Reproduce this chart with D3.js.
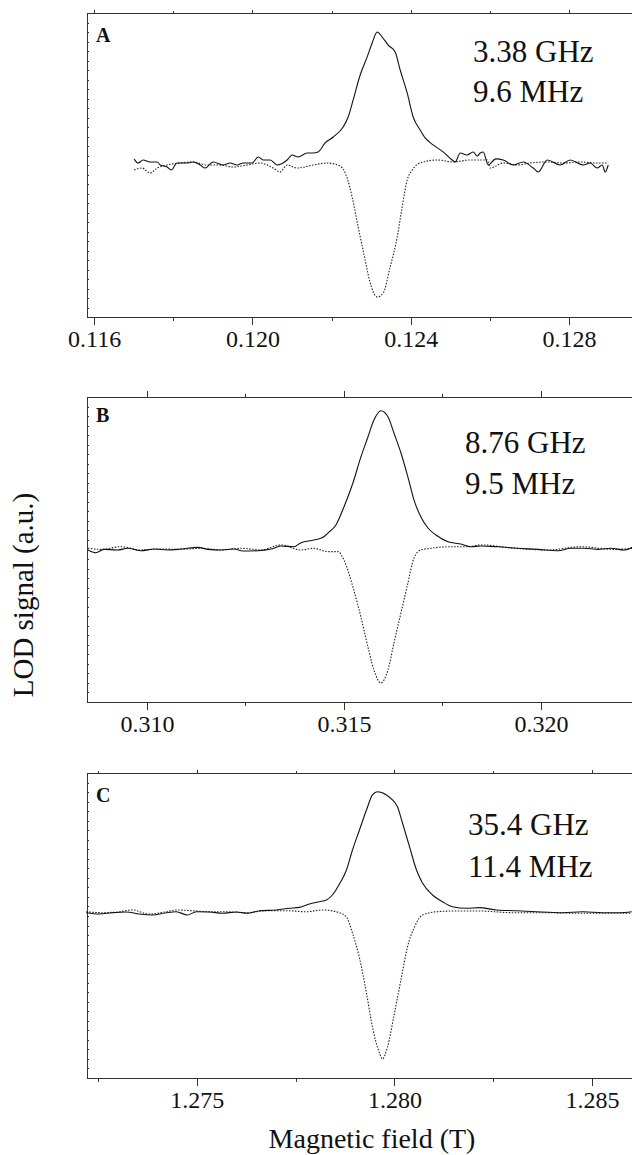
<!DOCTYPE html>
<html>
<head>
<meta charset="utf-8">
<script src="https://cdn.jsdelivr.net/npm/d3@7"></script>
<style>
  body { margin: 0; background: #fff; }
  svg text { font-family: "Liberation Serif", "Times New Roman", serif; fill: #111; }
  .axis path, .axis line { stroke: #333; stroke-width: 1; shape-rendering: crispEdges; }
</style>
</head>
<body>
<script>
// ---- data: [field (T), LOD signal (a.u.)] ----
var aSolid = [[0.117011,0.039],[0.117112,0.013],[0.117238,0.033],[0.117415,0.020],[0.117592,0.020],[0.117668,0],
  [0.117845,-0.013],[0.117946,-0.033],[0.118097,0.013],[0.118350,0.013],[0.118502,0.020],[0.118679,0],[0.118805,-0.020],
  [0.119007,0.020],[0.119260,0],[0.119437,0.013],[0.119614,0],[0.119765,0.013],[0.119993,0.013],[0.120144,0.053],
  [0.120271,0.033],[0.120448,0.033],[0.120624,0],[0.120877,0.033],[0.121003,0.066],[0.121155,0.053],[0.121383,0.079],
  [0.121534,0.079],[0.121660,0.086],[0.121837,0.145],[0.122040,0.184],[0.122292,0.250],[0.122419,0.316],[0.122545,0.428],
  [0.122722,0.592],[0.122899,0.711],[0.123025,0.803],[0.123152,0.875],[0.123278,0.842],[0.123430,0.789],[0.123606,0.743],
  [0.123733,0.625],[0.123910,0.474],[0.124061,0.316],[0.124238,0.230],[0.124364,0.178],[0.124567,0.132],[0.124819,0.086],
  [0.125047,0.033],[0.125123,0.020],[0.125249,0.079],[0.125420,0.066],[0.125578,0.086],[0.125680,0.059],[0.125755,0.079],
  [0.125831,0.086],[0.125957,0],[0.126150,0.040],[0.126336,0.033],[0.126589,0],[0.126841,0.020],[0.127094,-0.020],
  [0.127220,-0.046],[0.127448,0.033],[0.127776,0],[0.128029,0.033],[0.128357,0],[0.128534,0.013],[0.128711,-0.020],
  [0.128837,0],[0.128913,-0.046],[0.128989,0]];
var aDotted = [[0.117011,-0.033],[0.117213,-0.020],[0.117415,-0.053],[0.117592,-0.020],[0.117845,0],[0.118173,0.013],
  [0.118502,0.020],[0.118856,0],[0.119184,0],[0.119513,-0.013],[0.119867,0],[0.120195,0.013],[0.120523,-0.020],
  [0.120700,-0.046],[0.120877,0],[0.121130,-0.020],[0.121534,0],[0.121888,0.013],[0.122216,-0.007],[0.122393,-0.086],
  [0.122520,-0.211],[0.122671,-0.408],[0.122848,-0.625],[0.122975,-0.776],[0.123152,-0.868],[0.123303,-0.842],
  [0.123480,-0.671],[0.123657,-0.474],[0.123783,-0.276],[0.123910,-0.099],[0.124036,-0.033],[0.124238,0.013],
  [0.124668,0.033],[0.125072,0.020],[0.125502,0.033],[0.125932,0.033],[0.126007,-0.020],[0.126336,0.013],[0.126690,0],
  [0.127018,0.013],[0.127448,0.020],[0.127852,0.013],[0.128282,0.020],[0.128711,0.013],[0.128989,0.013]];

var bSolid = [[0.308503,-0.003],[0.308706,-0.021],[0.308909,0.001],[0.309264,-0.003],[0.309518,0.008],[0.309848,-0.008],
  [0.310178,0.003],[0.310533,-0.003],[0.310863,0.003],[0.311295,0.014],[0.311548,0.001],[0.311878,-0.003],[0.312208,0.003],
  [0.312437,-0.010],[0.312817,-0.008],[0.313147,0.003],[0.313401,0.023],[0.313731,0.018],[0.313909,0.045],[0.314239,0.062],
  [0.314492,0.084],[0.314594,0.108],[0.314797,0.161],[0.315000,0.279],[0.315228,0.436],[0.315431,0.607],[0.315609,0.738],
  [0.315761,0.849],[0.315939,0.910],[0.316117,0.871],[0.316269,0.764],[0.316447,0.633],[0.316624,0.475],[0.316777,0.325],
  [0.316954,0.213],[0.317132,0.141],[0.317335,0.095],[0.317640,0.051],[0.317969,0.036],[0.318223,0.018],[0.318477,0.023],
  [0.318909,0.018],[0.319416,0.008],[0.319924,0.001],[0.320431,-0.008],[0.320761,0.008],[0.321091,0.008],[0.321447,0.001],
  [0.321776,0.008],[0.322106,-0.003],[0.322335,0.018]];
var bDotted = [[0.308503,0.008],[0.308833,0.001],[0.309340,0.018],[0.309848,-0.003],[0.310355,0.003],[0.310863,0.001],
  [0.311371,0.008],[0.311878,-0.003],[0.312386,0.008],[0.312893,-0.003],[0.313401,0.030],[0.313909,-0.003],[0.314239,0.008],
  [0.314594,-0.014],[0.314848,-0.014],[0.315000,-0.069],[0.315228,-0.246],[0.315431,-0.443],[0.315609,-0.639],
  [0.315761,-0.790],[0.315939,-0.875],[0.316117,-0.790],[0.316269,-0.613],[0.316447,-0.416],[0.316624,-0.220],
  [0.316777,-0.056],[0.316954,-0.003],[0.317208,0.008],[0.317640,0.018],[0.318147,0.018],[0.318477,0.030],[0.319315,0.008],
  [0.320178,-0.003],[0.321015,0.018],[0.321853,0.001],[0.322335,0.008]];

var cSolid = [[1.272201,0.084],[1.272531,0.075],[1.272860,0.084],[1.273214,0.089],[1.273543,0.075],[1.273873,0.069],
  [1.274227,0.084],[1.274480,0.090],[1.274759,0.069],[1.274987,0.090],[1.275316,0.089],[1.275645,0.080],[1.276000,0.089],
  [1.276278,0.080],[1.276582,0.097],[1.277012,0.102],[1.277341,0.113],[1.277595,0.119],[1.277848,0.141],[1.278101,0.156],
  [1.278278,0.167],[1.278430,0.200],[1.278607,0.272],[1.278785,0.364],[1.278937,0.495],[1.279114,0.626],[1.279291,0.757],
  [1.279443,0.856],[1.279570,0.877],[1.279797,0.856],[1.279949,0.823],[1.280076,0.779],[1.280203,0.672],[1.280380,0.517],
  [1.280557,0.364],[1.280709,0.279],[1.280962,0.200],[1.281215,0.156],[1.281469,0.123],[1.281823,0.113],[1.282152,0.117],
  [1.282583,0.102],[1.283089,0.097],[1.283595,0.090],[1.284254,0.084],[1.284760,0.090],[1.285267,0.084],[1.285697,0.084],
  [1.286001,0.090]];
var cDotted = [[1.272201,0.090],[1.272607,0.084],[1.273037,0.090],[1.273366,0.102],[1.273797,0.075],[1.274227,0.090],
  [1.274480,0.102],[1.274885,0.097],[1.275316,0.090],[1.275746,0.090],[1.276253,0.084],[1.276759,0.097],[1.277265,0.097],
  [1.277772,0.090],[1.278177,0.102],[1.278531,0.090],[1.278785,0.056],[1.278937,-0.049],[1.279114,-0.213],
  [1.279291,-0.443],[1.279443,-0.666],[1.279620,-0.836],[1.279696,-0.875],[1.279823,-0.797],[1.280000,-0.574],
  [1.280177,-0.338],[1.280329,-0.141],[1.280506,-0.010],[1.280709,0.069],[1.281063,0.090],[1.281469,0.095],
  [1.282152,0.095],[1.282988,0.084],[1.283849,0.084],[1.284684,0.080],[1.285520,0.080],[1.286001,0.080]];

// tick values and annotation text
var aMajor = [0.116, 0.120, 0.124, 0.128], aMinor = [0.118, 0.122, 0.126];
var bMajor = [0.310, 0.315, 0.320], bMinor = [0.3125, 0.3175];
var cMajor = [1.275, 1.280, 1.285], cMinor = [1.2725, 1.2775, 1.2825];
var freqs = [["3.38 GHz", "9.6 MHz"], ["8.76 GHz", "9.5 MHz"], ["35.4 GHz", "11.4 MHz"]];
var letters = ["A", "B", "C"];

// layout
var W = 632, H = 1155, left = 87, right = 632;
var panels = [
  {solid: aSolid, dotted: aDotted, major: aMajor, minor: aMinor, domain: [0.11582, 0.12959],
   top: 13, bottom: 317, topMajor: 3, topMinor: 2, textX: 473, textY: [62, 102], letterY: 42},
  {solid: bSolid, dotted: bDotted, major: bMajor, minor: bMinor, domain: [0.30848, 0.32231],
   top: 397, bottom: 702, topMajor: 6, topMinor: 3, textX: 465, textY: [453, 494], letterY: 422},
  {solid: cSolid, dotted: cDotted, major: cMajor, minor: cMinor, domain: [1.27222, 1.28601],
   top: 773, bottom: 1078, topMajor: 3, topMinor: 2, textX: 468, textY: [835, 877], letterY: 802}
];

var svg = d3.select("body").append("svg")
  .attr("width", W).attr("height", H);

var yTicks = d3.range(-1, 1.0001, 0.0625);

panels.forEach(function(p, i) {
  var x = d3.scaleLinear().domain(p.domain).range([left, right]);
  var y = d3.scaleLinear().domain([-1, 1]).range([p.bottom, p.top]);

  // bottom axis: labelled major ticks + short minor ticks
  svg.append("g").attr("class", "axis")
    .attr("transform", "translate(0," + p.bottom + ")")
    .call(d3.axisBottom(x).tickValues(p.major).tickSizeInner(8).tickSizeOuter(0)
      .tickPadding(5).tickFormat(d3.format(".3f")))
    .call(function(g) {
      g.selectAll("text").style("font-size", "24px");
    });
  svg.append("g").attr("class", "axis")
    .attr("transform", "translate(0," + p.bottom + ")")
    .call(d3.axisBottom(x).tickValues(p.minor).tickSize(4).tickFormat(""))
    .select(".domain").remove();

  // top frame
  svg.append("g").attr("class", "axis")
    .attr("transform", "translate(0," + p.top + ")")
    .call(d3.axisTop(x).tickValues(p.major).tickSizeInner(p.topMajor).tickSizeOuter(0).tickFormat(""));
  svg.append("g").attr("class", "axis")
    .attr("transform", "translate(0," + p.top + ")")
    .call(d3.axisTop(x).tickValues(p.minor).tickSize(p.topMinor).tickFormat(""))
    .select(".domain").remove();

  // left axis, tiny inward ticks
  svg.append("g").attr("class", "axis")
    .attr("transform", "translate(" + left + ",0)")
    .call(d3.axisLeft(y).tickValues(yTicks).tickSizeInner(-2).tickSizeOuter(0).tickFormat(""));

  var line = d3.line()
    .x(function(d) { return x(d[0]); })
    .y(function(d) { return y(d[1]); })
    .curve(d3.curveMonotoneX);

  svg.append("path").datum(p.dotted)
    .attr("d", line)
    .attr("fill", "none")
    .attr("stroke", "#222")
    .attr("stroke-width", 1.1)
    .attr("stroke-dasharray", "1.5,1.5");

  svg.append("path").datum(p.solid)
    .attr("d", line)
    .attr("fill", "none")
    .attr("stroke", "#111")
    .attr("stroke-width", 1.1);

  svg.append("text")
    .attr("x", 96).attr("y", p.letterY)
    .style("font-size", "20px").style("font-weight", "bold")
    .text(letters[i]);

  freqs[i].forEach(function(t, k) {
    svg.append("text")
      .attr("x", p.textX).attr("y", p.textY[k])
      .style("font-size", "31px")
      .text(t);
  });
});

svg.append("text")
  .attr("transform", "translate(33,595) rotate(-90)")
  .attr("text-anchor", "middle")
  .style("font-size", "29px")
  .text("LOD signal (a.u.)");

svg.append("text")
  .attr("x", 372).attr("y", 1148)
  .attr("text-anchor", "middle")
  .style("font-size", "28px")
  .text("Magnetic field (T)");
</script>
</body>
</html>
